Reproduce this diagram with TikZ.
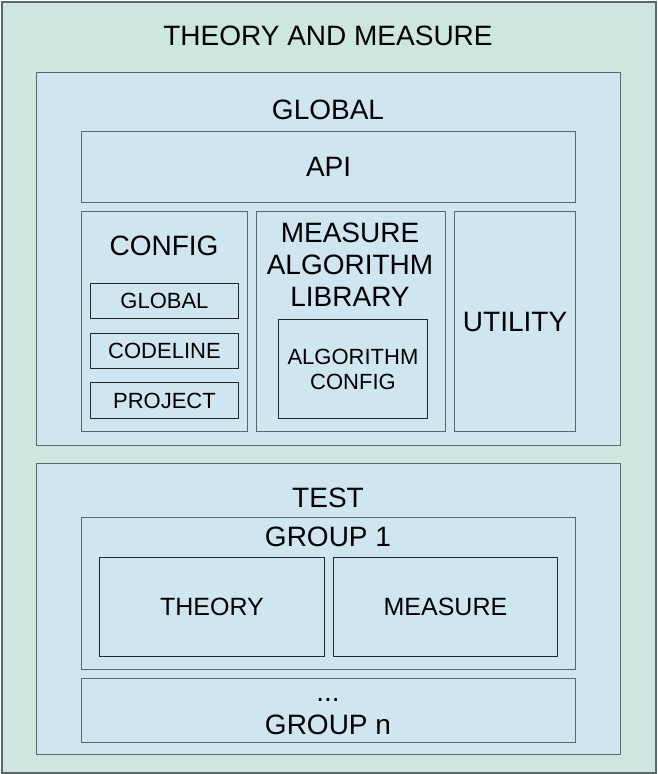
\documentclass[tikz,border=0pt]{standalone}
\usepackage{fontspec}
\setmainfont{Liberation Sans}
\usepackage{tikz}
\usetikzlibrary{positioning}
\definecolor{mint}{RGB}{205,230,224}
\definecolor{paleblue}{RGB}{207,229,239}
\definecolor{frame}{RGB}{90,104,104}
\newcommand{\bigfont}{\fontsize{28}{32}\selectfont}
\newcommand{\midfont}{\fontsize{25}{29}\selectfont}
\newcommand{\smallfont}{\fontsize{22}{25}\selectfont}

\begin{document}
\begin{tikzpicture}[x=1pt,y=-1pt,
  layer/.style={draw=frame,fill=paleblue,line width=1.2pt,inner sep=0pt,anchor=north west},
  part/.style={draw=black!85,fill=paleblue,line width=0.9pt,inner sep=0pt,anchor=north west},
  title/.style={inner sep=0pt,font=\bigfont,align=center},
  small/.style={font=\smallfont,align=center}]

\useasboundingbox (0,0) rectangle (657,774);
\node[draw=frame,fill=mint,line width=2pt,inner sep=0pt,anchor=north west,minimum width=654pt,minimum height=771pt] (all) at (1,1) {};
\node[title] (alltitle) at (328,36) {THEORY AND MEASURE};

% global part
\node[layer,minimum width=584pt,minimum height=373pt] (global) at (36,72) {};
\node[title] (globaltitle) at (328,110) {GLOBAL};
\node[layer,minimum width=494pt,minimum height=71pt,font=\bigfont] (api) at (81,131) {API};

\node[layer,minimum width=166pt,minimum height=220pt] (config) at (81,211) {};
\node[title] (configtitle) at (164,246) {CONFIG};
\node[part,minimum width=148pt,minimum height=35pt,small] (cglobal) at (90,283) {GLOBAL};
\node[part,minimum width=148pt,minimum height=35pt,small] (ccodeline) at (90,333) {CODELINE};
\node[part,minimum width=148pt,minimum height=36pt,small] (cproject) at (90,382) {PROJECT};

\node[layer,minimum width=189pt,minimum height=220pt] (library) at (256,211) {};
\node[title] (librarytitle) at (350,265) {MEASURE\\ALGORITHM\\LIBRARY};
\node[part,minimum width=149pt,minimum height=99pt,small] (algconfig) at (278,319) {ALGORITHM\\CONFIG};

\node[layer,minimum width=121pt,minimum height=220pt,font=\bigfont] (utility) at (454,211) {UTILITY};

% test part
\node[layer,minimum width=584pt,minimum height=291pt] (test) at (36,463) {};
\node[title] (testtitle) at (328,498) {TEST};
\node[layer,minimum width=494pt,minimum height=152pt] (group1) at (81,517) {};
\node[title] (group1title) at (328,537) {GROUP 1};
\node[part,minimum width=225pt,minimum height=99pt,font=\midfont] (theory) at (99,557) {THEORY};
\node[part,minimum width=224pt,minimum height=99pt,font=\midfont] (measure) at (333,557) {MEASURE};
\node[layer,minimum width=494pt,minimum height=64pt] (groupn) at (81,678) {};
\node[title] (groupndots) at (328,700) {...};
\node[title] (groupntitle) at (328,725) {GROUP n};
\end{tikzpicture}
\end{document}
